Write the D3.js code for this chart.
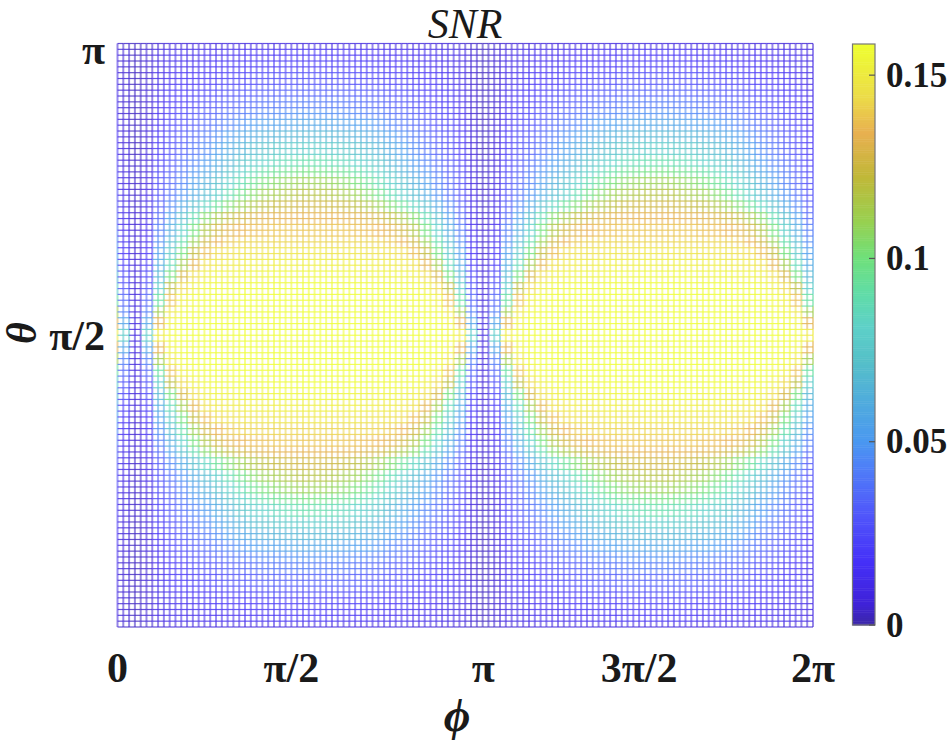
<!DOCTYPE html>
<html><head><meta charset="utf-8">
<script src="https://cdn.jsdelivr.net/npm/d3@7"></script>
<style>html,body{margin:0;padding:0;background:#fff}svg{display:block}text{font-family:"Liberation Serif",serif;fill:#1a1a1a}</style>
</head><body><div id="chart"></div>
<script>
// SNR, in thousandths: one quarter of a lobe.
// Rows go from theta = pi (top) to theta = pi/2, columns from the dark null to the lobe centre.
const snrQuarter = [
[3,4,5,6,6,7,7,7,8,8,8,8,8,8,8,8],
[3,5,9,11,12,12,13,13,14,14,15,15,15,16,16,16],
[3,5,10,12,13,14,15,16,17,18,18,19,19,20,20,20],
[3,5,11,14,16,17,18,20,21,22,23,24,25,25,26,26],
[3,5,12,16,18,20,22,24,26,28,29,30,31,32,32,32],
[3,5,13,18,20,23,26,29,31,33,35,37,38,39,40,40],
[3,5,14,20,23,27,30,34,37,40,42,44,45,46,47,47],
[3,6,15,22,26,30,35,39,43,47,50,52,53,55,56,56],
[3,6,17,24,29,34,40,46,51,56,59,62,64,65,66,66],
[3,7,19,26,32,38,45,52,58,64,68,71,74,76,77,78],
[4,7,21,29,36,43,50,58,65,72,77,81,85,87,89,90],
[4,8,23,31,40,48,56,64,72,80,86,91,95,97,99,100],
[4,9,25,34,43,53,62,71,80,88,95,101,105,108,110,110],
[4,10,27,37,47,58,68,78,88,97,104,110,113,116,118,118],
[4,11,30,44,57,70,83,94,103,110,116,120,123,125,126,126],
[5,12,35,52,70,88,104,114,121,126,129,131,132,133,133,133],
[5,13,41,60,80,100,116,126,131,134,136,137,138,138,138,138],
[5,15,46,68,90,110,126,134,139,141,142,142,142,142,142,142],
[5,17,52,76,100,122,136,143,145,146,146,147,147,147,148,148],
[6,20,58,86,112,132,145,148,150,150,151,151,151,152,152,152],
[6,23,66,100,128,144,151,153,153,154,154,154,155,155,155,155],
[6,28,78,120,143,152,155,156,156,157,157,157,157,157,158,158],
[7,34,92,137,152,156,157,157,158,158,158,158,158,158,158,158],
[7,42,112,148,155,157,158,158,158,158,158,158,158,158,158,158],
[8,55,132,153,157,158,158,158,158,158,158,158,158,158,158,158],
[8,78,150,156,158,158,158,158,158,158,158,158,158,158,158,158]
];
const meshPhiCells = 120;
const meshThetaCells = 100;
const nullPhiOffset = 0.052;            // first null, in units of pi
const xTickValues = [0, 0.5, 1, 1.5, 2];
const xTickLabels = ["0", "\u03C0/2", "\u03C0", "3\u03C0/2", "2\u03C0"];
const yTickValues = [1, 0.5];
const yTickLabels = ["\u03C0", "\u03C0/2"];
const barTickValues = [0, 0.05, 0.1, 0.15];
const barTickLabels = ["0", "0.05", "0.1", "0.15"];
const cmapStops = [0, 0.0055, 0.0170, 0.0295, 0.0420, 0.0500, 0.0720, 0.0810, 0.0900, 0.1000, 0.1100, 0.1220, 0.1340, 0.1440, 0.1585];
const cmapColors = ["#3c28a8","#3f22d8","#4530f8","#5055fa","#4f7cf8","#4a98f0","#55c0c8","#5dd0c8","#60dca8","#6fe07a","#98d050","#c0b838","#e8b050","#ecdc48","#eeff30"];

const W = 950, H = 740;
const svg = d3.select("#chart").append("svg").attr("width", W).attr("height", H);
const x = d3.scaleLinear().domain([0, 2]).range([117.5, 813]);
const y = d3.scaleLinear().domain([0, 1]).range([627, 43.5]);
const color = d3.scaleLinear().domain(cmapStops).range(cmapColors).interpolate(d3.interpolateRgb).clamp(true);
const barY = d3.scaleLinear().domain([0, 0.1585]).range([625, 44]);

// index of the table cell for a mesh location (phi, theta in units of pi)
function snrAt(phi, theta) {
  let u = ((phi - nullPhiOffset) % 1 + 1) % 1;
  u = Math.min(u, 1 - u) * 2;            // 0 at null, 1 at lobe centre
  const v = 1 - Math.abs(theta - 0.5) * 2; // 0 at pole, 1 at equator
  const c = Math.round(u * (snrQuarter[0].length - 1));
  const r = Math.round(v * (snrQuarter.length - 1));
  return snrQuarter[r][c] / 1000;
}

const phis = d3.range(meshPhiCells + 1).map(i => 2 * i / meshPhiCells);
const thetas = d3.range(meshThetaCells + 1).map(j => j / meshThetaCells);
const segs = [];
phis.forEach(p => d3.pairs(thetas).forEach(([a, b]) => segs.push({p0: p, p1: p, t0: a, t1: b, k: "v"})));
thetas.forEach(t => d3.pairs(phis).forEach(([a, b]) => segs.push({p0: a, p1: b, t0: t, t1: t, k: "h"})));

const mesh = svg.append("g").attr("fill", "none");
mesh.selectAll("line").data(segs).join("line")
  .attr("x1", d => x(d.p0)).attr("x2", d => x(d.p1))
  .attr("y1", d => y(d.t0)).attr("y2", d => y(d.t1))
  .attr("stroke", d => color(snrAt((d.p0 + d.p1) / 2, (d.t0 + d.t1) / 2)))
  .attr("stroke-width", d => d.k === "v" ? 2 : 1.2)
  .attr("stroke-opacity", d => d.k === "v" ? 0.55 : 0.8);

// colour bar
const barX = 852.5, barW = 22.5;
const barSteps = d3.range(0, 0.1585, 0.0005);
svg.append("g").selectAll("rect").data(barSteps).join("rect")
  .attr("x", barX).attr("width", barW)
  .attr("y", d => barY(d + 0.0005)).attr("height", d => barY(d) - barY(d + 0.0005) + 0.5)
  .attr("fill", d => color(d));
svg.append("rect").attr("x", barX).attr("y", 44).attr("width", barW).attr("height", 581)
  .attr("fill", "none").attr("stroke", "#777").attr("stroke-width", 1.2);
svg.append("g").selectAll("line").data(barTickValues).join("line")
  .attr("x1", barX + barW - 6).attr("x2", barX + barW)
  .attr("y1", d => barY(d)).attr("y2", d => barY(d))
  .attr("stroke", "#555").attr("stroke-width", 1.2);
svg.append("g").selectAll("text").data(barTickValues).join("text")
  .attr("x", 886).attr("y", d => barY(d) + 11.5)
  .attr("font-size", 35).attr("font-weight", "bold")
  .text((d, i) => barTickLabels[i]);

// axis labels
svg.append("g").selectAll("text").data(xTickValues).join("text")
  .attr("x", (d, i) => x(d) + (d === 1 ? 18 : 0)).attr("y", 682)
  .attr("text-anchor", "middle").attr("font-size", 42).attr("font-weight", "bold")
  .text((d, i) => xTickLabels[i]);
svg.append("g").selectAll("text").data(yTickValues).join("text")
  .attr("x", 105).attr("y", d => y(d) + (d === 1 ? 20 : 15))
  .attr("text-anchor", "end").attr("font-size", 42).attr("font-weight", "bold")
  .text((d, i) => yTickLabels[i]);

svg.append("text").attr("x", 465).attr("y", 37.5).attr("text-anchor", "middle")
  .attr("font-size", 42).attr("font-style", "italic").text("SNR");
svg.append("text").attr("x", 457).attr("y", 731).attr("text-anchor", "middle")
  .attr("font-size", 46).attr("font-style", "italic").attr("font-weight", "bold").text("\u03D5");
svg.append("text").attr("transform", "translate(36,333) rotate(-90)").attr("text-anchor", "middle")
  .attr("font-size", 42).attr("font-style", "italic").attr("font-weight", "bold").text("\u03B8");
</script></body></html>
